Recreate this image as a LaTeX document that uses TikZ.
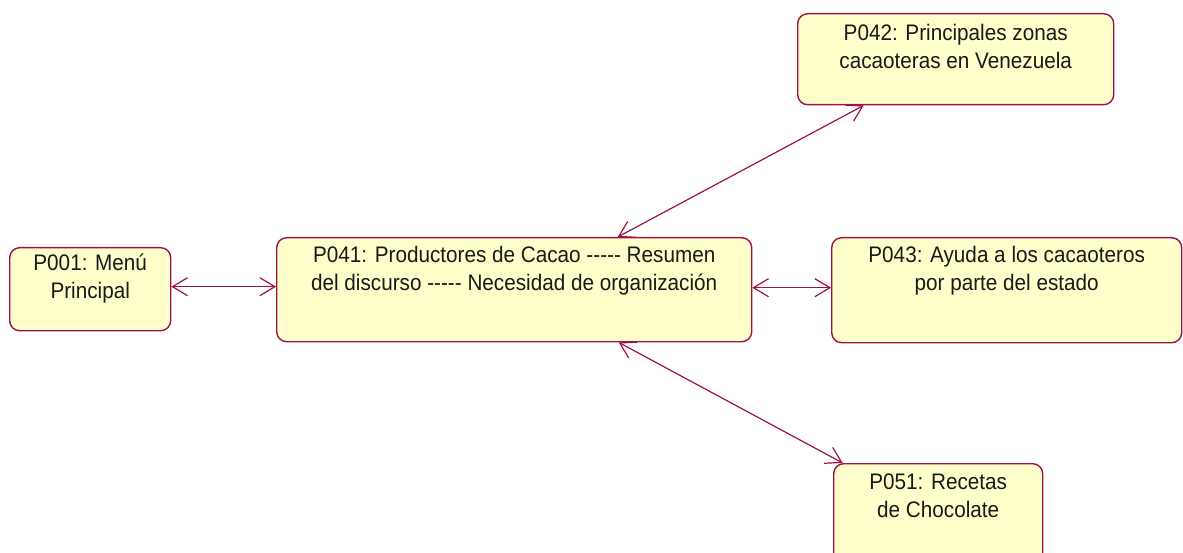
\documentclass[tikz,border=0pt]{standalone}
\usepackage{fontspec}
\setmainfont{Liberation Sans}[FakeStretch=0.92]
\usetikzlibrary{arrows.meta,calc}
\definecolor{edge}{RGB}{160,16,72}
\definecolor{pagefill}{RGB}{255,255,204}
\tikzset{
  page/.style={draw=edge, line width=1.4pt, fill=pagefill, rounded corners=10pt,
               inner sep=0pt, anchor=north west},
  caption/.style={anchor=north, align=center, inner sep=0pt,
                  font=\fontsize{22.5}{28}\selectfont, text=black!90,
                  execute at begin node=\rule{0pt}{21pt}},
  link/.style={draw=edge, line width=1.2pt,
               {Straight Barb[length=15pt,width=18pt,line width=1.2pt]}-{Straight Barb[length=15pt,width=18pt,line width=1.2pt]}}
}
\begin{document}
\begin{tikzpicture}[x=1pt,y=-1pt]
\clip (0,0) rectangle (1183,553);
\fill[white] (0,0) rectangle (1183,553);

% pages
\node[page, minimum width=161pt, minimum height=83pt] (p001) at (9,247) {};
\node[page, minimum width=475pt, minimum height=104pt] (p041) at (276,237) {};
\node[page, minimum width=316pt, minimum height=91pt] (p042) at (797,13) {};
\node[page, minimum width=350pt, minimum height=105pt] (p043) at (831,237) {};
\node[page, minimum width=209pt, minimum height=110pt] (p051) at (833,463) {};

% page titles
\node[caption] (t001) at ([yshift=-7pt]p001.north) {P001: Menú\\Principal};
\node[caption] (t041) at ([yshift=-9pt]p041.north) {P041: Productores de Cacao -{}-{}-{}-{}- Resumen\\del discurso -{}-{}-{}-{}- Necesidad de organización};
\node[caption] (t042) at ([yshift=-11pt]p042.north) {P042: Principales zonas\\cacaoteras en Venezuela};
\node[caption] (t043) at ([yshift=-9pt]p043.north) {P043: Ayuda a los cacaoteros\\por parte del estado};
\node[caption] (t051) at ([yshift=-11pt]p051.north) {P051: Recetas\\de Chocolate};

% navigation links
\coordinate (a1) at ([yshift=2.5pt]p001.east);
\draw[link] (a1) -- (a1 -| p041.west);
\coordinate (a2) at ([yshift=2pt]p041.east);
\draw[link] (a2) -- (a2 -| p043.west);
\draw[link] ([xshift=103.5pt]p041.north) -- ([xshift=-92pt]p042.south);
\draw[link] ([xshift=104.5pt]p041.south) -- ([xshift=-95.5pt]p051.north);
\end{tikzpicture}
\end{document}
